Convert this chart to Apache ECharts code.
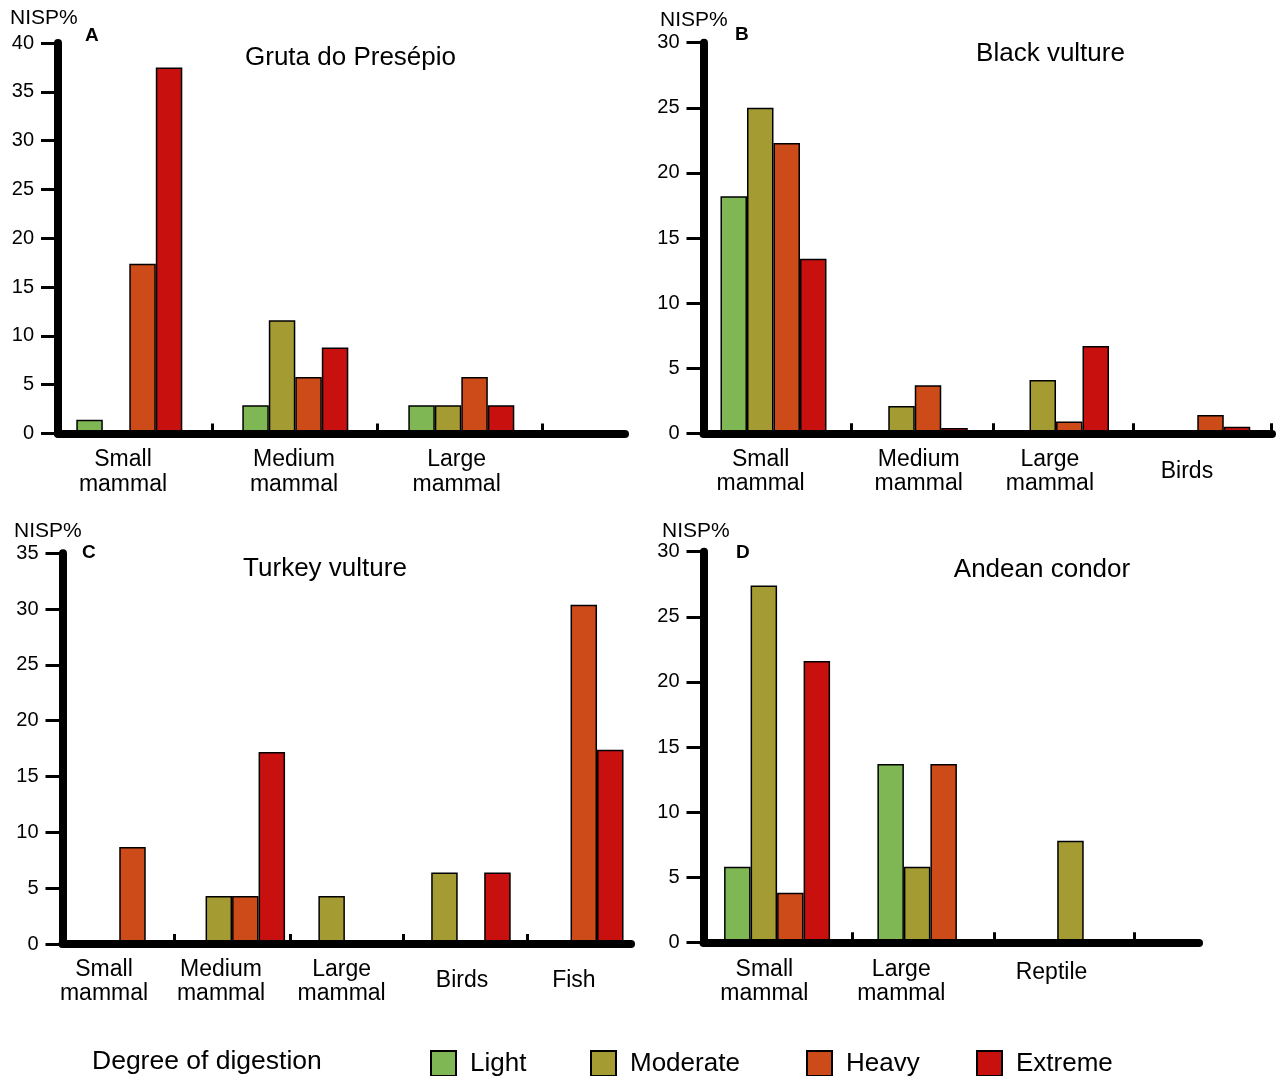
<!DOCTYPE html>
<html><head><meta charset="utf-8">
<script src="https://cdn.jsdelivr.net/npm/echarts@6/dist/echarts.min.js"></script>
<style>html,body{margin:0;padding:0;background:#fff}#c{width:1278px;height:1076px}</style>
</head><body><div id="c"></div>
<script>
// ---------- DATA ----------
const degrees = ['Light', 'Moderate', 'Heavy', 'Extreme'];

// A: Gruta do Presépio
const catsA = ['Small\nmammal', 'Medium\nmammal', 'Large\nmammal'];
const lightA    = [1.4, 2.9, 2.9];
const moderateA = [null, 11.6, 2.9];
const heavyA    = [17.4, 5.8, 5.8];
const extremeA  = [37.5, 8.8, 2.9];

// B: Black vulture
const catsB = ['Small\nmammal', 'Medium\nmammal', 'Large\nmammal', 'Birds'];
const lightB    = [18.2, null, null, null];
const moderateB = [25.0, 2.1, 4.1, null];
const heavyB    = [22.3, 3.7, 0.9, 1.4];
const extremeB  = [13.4, 0.4, 6.7, 0.5];

// C: Turkey vulture
const catsC = ['Small\nmammal', 'Medium\nmammal', 'Large\nmammal', 'Birds', 'Fish'];
const lightC    = [null, null, null, null, null];
const moderateC = [null, 4.3, 4.3, 6.4, null];
const heavyC    = [8.7, 4.3, null, null, 30.4];
const extremeC  = [null, 17.2, null, 6.4, 17.4];

// D: Andean condor
const catsD = ['Small\nmammal', 'Large\nmammal', 'Reptile'];
const lightD    = [5.8, 13.7, null];
const moderateD = [27.4, 5.8, 7.8];
const heavyD    = [3.8, 13.7, null];
const extremeD  = [21.6, null, null];

const yMaxA = 40, yMaxB = 30, yMaxC = 35, yMaxD = 30;
const yStep = 5;

// ---------- STYLE / LAYOUT ----------
const colors = ['#80b755', '#a59b33', '#cd4a19', '#c8100e'];
const FONT = '"Liberation Sans", Arial, Helvetica, sans-serif';

const panels = [
  { title: 'Gruta do Presépio', letter: 'A', cats: catsA, vals: [lightA, moderateA, heavyA, extremeA], yMax: yMaxA,
    grid: { left: 58, top: 43, width: 567, height: 390.5 }, xMin: -0.4295, xMax: 2.986,
    ticks: [0.498, 1.492, 2.486], labelPos: [-0.038, 0.992, 1.972], labelMargin: 14, singleLH: 48,
    titlePos: [350.5, 58], nispPos: [10, 18], letterPos: [85, 36] },
  { title: 'Black vulture', letter: 'B', cats: catsB, vals: [lightB, moderateB, heavyB, extremeB], yMax: yMaxB,
    grid: { left: 703.5, top: 42.7, width: 568.5, height: 390.6 }, xMin: -0.4955, xMax: 3.529,
    ticks: [0.549, 1.554, 2.545, 3.525], labelPos: [-0.091, 1.028, 1.957, 2.927], labelMargin: 14, singleLH: 48,
    titlePos: [1050.5, 54], nispPos: [660, 20], letterPos: [735, 35] },
  { title: 'Turkey vulture', letter: 'C', cats: catsC, vals: [lightC, moderateC, heavyC, extremeC], yMax: yMaxC,
    grid: { left: 62.5, top: 553.3, width: 568.5, height: 390.7 }, xMin: -0.503, xMax: 4.536,
    ticks: [0.4836, 1.5117, 2.521, 3.618], labelPos: [-0.135, 0.902, 1.971, 3.038, 4.03], labelMargin: 13, singleLH: 48,
    titlePos: [325, 569], nispPos: [14, 531], letterPos: [82, 553] },
  { title: 'Andean condor', letter: 'D', cats: catsD, vals: [lightD, moderateD, heavyD, extremeD], yMax: yMaxD,
    grid: { left: 703.5, top: 551.7, width: 495.5, height: 390.6 }, xMin: -0.48, xMax: 2.752,
    ticks: [0.493, 1.418, 2.327], labelPos: [-0.083, 0.81, 1.79], labelMargin: 15, singleLH: 31,
    titlePos: [1042, 569.5], nispPos: [662, 531], letterPos: [736, 553] }
];

const grids = [], xAxes = [], yAxes = [], series = [], titles = [];

panels.forEach((p, i) => {
  grids.push(Object.assign({ containLabel: false }, p.grid));
  const nearestIdx = (v) => {
    let best = 0, bd = Infinity;
    p.labelPos.forEach((q, k) => { const d = Math.abs(q - v); if (d < bd) { bd = d; best = k; } });
    return best;
  };
  xAxes.push({
    type: 'value', gridIndex: i, min: p.xMin, max: p.xMax, z: 10,
    splitLine: { show: false },
    axisLine: { show: true, onZero: false, lineStyle: { color: '#000', width: 8, cap: 'round' } },
    axisTick: { show: true, inside: true, length: 10, customValues: p.ticks, lineStyle: { color: '#000', width: 3 } },
    axisLabel: {
      show: true, customValues: p.labelPos, margin: p.labelMargin, color: '#000',
      fontSize: 23, lineHeight: 24.5, fontFamily: FONT,
      formatter: (v) => {
        const t = p.cats[nearestIdx(v)];
        return t.indexOf('\n') >= 0 ? t : '{one|' + t + '}';
      },
      rich: { one: { fontSize: 23, lineHeight: p.singleLH, color: '#000', fontFamily: FONT } }
    }
  });
  yAxes.push({
    type: 'value', gridIndex: i, min: 0, max: p.yMax, interval: yStep, z: 10,
    splitLine: { show: false },
    axisLine: { show: true, onZero: false, lineStyle: { color: '#000', width: 8, cap: 'round' } },
    axisTick: { show: true, length: 17, lineStyle: { color: '#000', width: 3 } },
    axisLabel: { margin: 24, fontSize: 20, color: '#000', fontFamily: FONT }
  });
  degrees.forEach((d, k) => {
    series.push({
      type: 'bar', name: d, xAxisIndex: i, yAxisIndex: i,
      data: p.vals[k].map((v, j) => [j, v == null ? '-' : v]),
      barWidth: 26.5, barGap: '0%',
      itemStyle: { color: colors[k], borderColor: '#000', borderWidth: 1.5 },
      emphasis: { disabled: true }, z: 2
    });
  });
  titles.push({ text: p.title, left: p.titlePos[0], top: p.titlePos[1], textAlign: 'center', textVerticalAlign: 'middle', padding: 0,
    textStyle: { fontSize: 26, fontWeight: 'normal', color: '#000', fontFamily: FONT } });
  titles.push({ text: 'NISP%', left: p.nispPos[0], top: p.nispPos[1], textVerticalAlign: 'middle', padding: 0,
    textStyle: { fontSize: 21, fontWeight: 'normal', color: '#000', fontFamily: FONT } });
  titles.push({ text: p.letter, left: p.letterPos[0], top: p.letterPos[1], textVerticalAlign: 'middle', padding: 0,
    textStyle: { fontSize: 19, fontWeight: 'bold', color: '#000', fontFamily: FONT } });
});

titles.push({ text: 'Degree of digestion', left: 92, top: 1062, textVerticalAlign: 'middle', padding: 0,
  textStyle: { fontSize: 26.5, fontWeight: 'normal', color: '#000', fontFamily: FONT } });

const legendLefts = [430, 590, 806, 976];
const legends = degrees.map((d, k) => ({
  data: [d], left: legendLefts[k], top: 1050, padding: 0, itemGap: 0,
  itemWidth: 25, itemHeight: 25, icon: 'rect', selectedMode: false,
  itemStyle: { borderColor: '#000', borderWidth: 2 },
  textStyle: { fontSize: 26, color: '#000', fontFamily: FONT, padding: [0, 0, 0, 9] }
}));

const chart = echarts.init(document.getElementById('c'), null, { renderer: 'canvas' });
chart.setOption({
  animation: false,
  backgroundColor: '#fff',
  textStyle: { fontFamily: FONT },
  title: titles,
  legend: legends,
  grid: grids,
  xAxis: xAxes,
  yAxis: yAxes,
  series: series
});
</script></body></html>
